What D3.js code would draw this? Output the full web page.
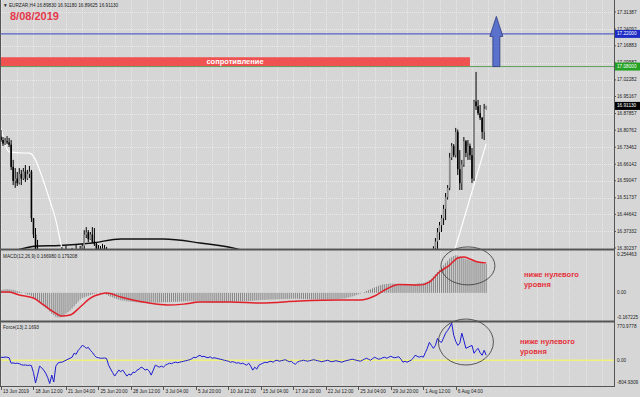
<!DOCTYPE html>
<html>
<head>
<meta charset="utf-8">
<style>
  html, body { margin: 0; padding: 0; background: #d6d6d6; }
  svg { display: block; font-family: "Liberation Sans", Arial, sans-serif; }
</style>
</head>
<body>
<div id="chart"></div>
<script src="https://d3js.org/d3.v7.min.js"></script>
<script>
// ---- data ----
var timeLabels = ["13 Jun 2019", "18 Jun 12:00", "21 Jun 04:00", "25 Jun 20:00", "28 Jun 12:00",
  "3 Jul 04:00", "5 Jul 20:00", "10 Jul 12:00", "15 Jul 04:00", "17 Jul 20:00",
  "22 Jul 12:00", "25 Jul 04:00", "29 Jul 20:00", "1 Aug 12:00", "6 Aug 04:00"];
var barsPerLabel = 16;

var priceTicks = [17.31387, 17.24092, 17.16883, 17.09587, 17.02282, 16.95167, 16.87857, 16.80762,
  16.73462, 16.66142, 16.59047, 16.51737, 16.44642, 16.37332, 16.30237];

// [bar, open, high, low, close] - only bars that show inside the price window
var priceBars = [
  [0, 16.78, 16.808, 16.757, 16.765], [1, 16.765, 16.778, 16.74, 16.75], [2, 16.75, 16.774, 16.744, 16.76],
  [3, 16.76, 16.782, 16.748, 16.755], [4, 16.755, 16.774, 16.735, 16.745], [5, 16.745, 16.765, 16.637, 16.65],
  [6, 16.65, 16.68, 16.572, 16.59], [7, 16.59, 16.645, 16.56, 16.6], [8, 16.6, 16.628, 16.568, 16.58],
  [9, 16.58, 16.645, 16.575, 16.62], [10, 16.62, 16.637, 16.572, 16.6], [11, 16.6, 16.645, 16.594, 16.63],
  [12, 16.63, 16.658, 16.585, 16.6], [13, 16.6, 16.637, 16.594, 16.62], [14, 16.62, 16.654, 16.602, 16.63],
  [15, 16.63, 16.637, 16.414, 16.43], [16, 16.43, 16.431, 16.345, 16.36], [17, 16.36, 16.388, 16.25, 16.27],
  [18, 16.27, 16.337, 16.208, 16.22],
  [30, 16.25, 16.307, 16.22, 16.26], [32, 16.26, 16.311, 16.23, 16.28], [35, 16.27, 16.303, 16.24, 16.29],
  [37, 16.28, 16.315, 16.25, 16.3], [39, 16.29, 16.311, 16.26, 16.3], [40, 16.3, 16.32, 16.27, 16.31],
  [41, 16.31, 16.379, 16.294, 16.36], [42, 16.36, 16.392, 16.345, 16.37], [43, 16.37, 16.379, 16.328, 16.34],
  [44, 16.34, 16.371, 16.337, 16.36], [45, 16.36, 16.392, 16.324, 16.33], [46, 16.33, 16.388, 16.311, 16.32],
  [47, 16.32, 16.324, 16.25, 16.27], [48, 16.27, 16.315, 16.24, 16.29], [49, 16.29, 16.311, 16.25, 16.27],
  [50, 16.27, 16.32, 16.25, 16.3], [51, 16.3, 16.315, 16.26, 16.28], [52, 16.28, 16.307, 16.24, 16.26],
  [212, 16.2, 16.29, 16.18, 16.28], [213, 16.28, 16.31, 16.26, 16.3], [214, 16.3, 16.345, 16.251, 16.33],
  [215, 16.33, 16.388, 16.294, 16.37], [216, 16.37, 16.414, 16.337, 16.4], [217, 16.4, 16.444, 16.371, 16.43],
  [218, 16.43, 16.487, 16.401, 16.47], [219, 16.47, 16.538, 16.422, 16.52], [220, 16.52, 16.572, 16.51, 16.56],
  [221, 16.56, 16.71, 16.55, 16.69], [222, 16.69, 16.752, 16.68, 16.74], [223, 16.74, 16.748, 16.692, 16.7],
  [224, 16.7, 16.817, 16.69, 16.8], [225, 16.8, 16.81, 16.615, 16.64], [226, 16.64, 16.722, 16.551, 16.58],
  [227, 16.58, 16.68, 16.551, 16.66], [228, 16.66, 16.778, 16.65, 16.76], [229, 16.76, 16.765, 16.692, 16.71],
  [230, 16.71, 16.765, 16.68, 16.74], [231, 16.74, 16.75, 16.68, 16.7], [232, 16.7, 16.731, 16.581, 16.6],
  [233, 16.6, 16.937, 16.59, 16.93], [234, 16.93, 17.057, 16.894, 16.91], [235, 16.91, 16.937, 16.872, 16.88],
  [236, 16.88, 16.915, 16.851, 16.86], [237, 16.86, 16.864, 16.77, 16.8], [238, 16.8, 16.92, 16.765, 16.898],
  [239, 16.8983, 16.9118, 16.89625, 16.9113]
];

// moving averages as [bar, price]
var fastMaLeft = [[0, 16.817], [4, 16.714], [9, 16.71], [14, 16.709], [17, 16.68], [19, 16.637], [24, 16.508], [27, 16.422], [30, 16.302], [33, 16.22]];
var fastMaRight = [[222, 16.25], [239, 16.75]];
var slowMa = [[8, 16.294], [18, 16.311], [29, 16.313], [45, 16.324], [59, 16.341], [80, 16.341], [98, 16.324], [118, 16.294], [125, 16.27]];

var resistance = [17.08, 17.12];
var resistanceEndBar = 231;
var blueLevel = 17.22;
var greenLevel = 17.08;
var arrowBar = 244, arrowFrom = 17.08, arrowTo = 17.295;

var macdHist = [
  0.018, 0.019, 0.021, 0.022, 0.021, 0.019, 0.018, 0.014, 0.011, 0.007,
  0.004, 0, -0.004, -0.009, -0.013, -0.018, -0.027, -0.035, -0.044, -0.053,
  -0.066, -0.08, -0.089, -0.097, -0.111, -0.124, -0.133, -0.142, -0.146, -0.146,
  -0.142, -0.133, -0.124, -0.115, -0.106, -0.093, -0.08, -0.066, -0.053, -0.04,
  -0.031, -0.027, -0.022, -0.018, -0.013, -0.009, -0.005, -0.003, 0, 0.002,
  0, -0.004, -0.011, -0.018, -0.023, -0.028, -0.033, -0.037, -0.041, -0.044,
  -0.046, -0.048, -0.05, -0.051, -0.053, -0.054, -0.055, -0.056, -0.057, -0.058,
  -0.058, -0.058, -0.059, -0.059, -0.058, -0.058, -0.058, -0.058, -0.057, -0.057,
  -0.056, -0.056, -0.055, -0.055, -0.054, -0.053, -0.053, -0.053, -0.052, -0.052,
  -0.051, -0.05, -0.05, -0.049, -0.049, -0.05, -0.05, -0.051, -0.053, -0.054,
  -0.055, -0.056, -0.057, -0.058, -0.058, -0.058, -0.059, -0.059, -0.058, -0.058,
  -0.058, -0.057, -0.056, -0.055, -0.054, -0.053, -0.053, -0.052, -0.051, -0.051,
  -0.05, -0.05, -0.049, -0.048, -0.047, -0.046, -0.045, -0.044, -0.043, -0.042,
  -0.042, -0.041, -0.04, -0.04, -0.039, -0.039, -0.038, -0.038, -0.037, -0.037,
  -0.037, -0.036, -0.036, -0.035, -0.035, -0.035, -0.035, -0.036, -0.036, -0.037,
  -0.037, -0.038, -0.038, -0.039, -0.039, -0.04, -0.04, -0.04, -0.041, -0.041,
  -0.041, -0.041, -0.04, -0.04, -0.039, -0.038, -0.037, -0.036, -0.035, -0.034,
  -0.032, -0.028, -0.025, -0.021, -0.018, -0.013, -0.009, -0.004, 0, 0.005,
  0.011, 0.016, 0.021, 0.027, 0.032, 0.037, 0.042, 0.046, 0.05, 0.051,
  0.053, 0.054, 0.055, 0.055, 0.054, 0.053, 0.051, 0.05, 0.049, 0.049,
  0.049, 0.05, 0.05, 0.051, 0.053, 0.055, 0.057, 0.058, 0.06, 0.062,
  0.066, 0.075, 0.084, 0.097, 0.111, 0.124, 0.137, 0.15, 0.164, 0.177,
  0.19, 0.204, 0.212, 0.219, 0.223, 0.221, 0.217, 0.211, 0.205, 0.2,
  0.196, 0.193, 0.19, 0.188, 0.186, 0.183, 0.181, 0.177, 0.174, 0.172
];
var macdSignal = [[0, 0.005], [4, 0.005], [9, -0.013], [16, -0.031], [21, -0.072], [26, -0.114], [30, -0.138],
  [34, -0.132], [39, -0.084], [44, -0.031], [49, -0.007], [52, -0.001], [59, -0.025], [65, -0.043], [73, -0.061],
  [82, -0.072], [90, -0.067], [98, -0.055], [113, -0.055], [128, -0.061], [147, -0.049], [167, -0.043],
  [177, -0.043], [184, -0.019], [189, 0.017], [196, 0.05], [206, 0.046], [211, 0.064], [216, 0.124],
  [221, 0.165], [225, 0.207], [228, 0.213], [231, 0.201], [235, 0.183], [239, 0.178]];
var macdRange = [-0.167225, 0.254463];
var macdLabels = ["0.254463", "0.00", "-0.167225"];

var force = [
  60, 55, 65, 60, 50, -60, -55, -65, -60, -70,
  -90, -100, -95, -105, -100, -110, -250, -460, -300, -120,
  -150, -200, -260, -350, -470, -300, -440, -120, -60, -40,
  -40, -20, 0, 20, 40, 60, 140, 120, 200, 240,
  300, 280, 240, 260, 200, 160, 100, 60, 50, 40,
  40, 45, 35, -100, -180, -250, -320, -260, -200, -230,
  -200, -260, -320, -280, -300, -240, -250, -200, -180, -140,
  -160, -200, -180, -220, -300, -200, -100, -120, -140, -120,
  -140, -100, -80, -60, -70, -50, -40, -50, -40, -30,
  -20, -10, 0, 10, 30, 60, 50, 80, 100, 70,
  80, 60, 50, 70, 40, 50, 40, 30, 20, 10,
  0, -10, -20, -40, -30, -40, -60, -50, -70, -60,
  -80, -100, -60, -120, -200, -140, -180, -100, -80, -60,
  -40, -50, -30, -20, -40, -10, 0, -20, -10, 0,
  10, -10, -30, -20, -60, -80, -40, -20, -10, 0,
  -10, -20, -10, 0, 10, 0, -10, -20, -30, -20,
  -10, 0, -20, -30, -20, -10, -20, -30, -40, -20,
  -10, 0, 10, 20, 10, 0, -10, -20, 0, 20,
  40, 20, 0, 30, 60, 40, 20, 30, 50, 60,
  40, 60, 80, 60, 50, 60, 70, 20, -40, -20,
  -40, -20, 0, 40, 100, 80, 60, 80, 60, 150,
  240, 360, 300, 240, 300, 440, 380, 360, 450, 545,
  600, 667, 747, 505, 380, 300, 343, 545, 400, 240,
  260, 280, 300, 140, 200, 240, 150, 100, 200, 100
];
var forceRange = [-520, 770.9778];
var forceLabels = ["770.9778", "0.00", "-804.9309"];

// ---- layout ----
var width = 640, height = 397;
var plotRight = 614;
var mainTop = 0, mainBottom = 249;
var macdTop = 250, macdBottom = 321;
var forceTop = 322, forceBottom = 386;
var fs = 4.7;

var svg = d3.select("#chart").append("svg")
  .attr("width", width).attr("height", height);

svg.append("rect").attr("width", width).attr("height", height).attr("fill", "#d6d6d6");

var x = d3.scaleLinear().domain([0, 239]).range([1, 486.2]);
var yMain = d3.scaleLinear().domain([16.30237, 17.31387]).range([248, 12]);
var yMacd = d3.scaleLinear().domain(macdRange).range([macdBottom, macdTop]);
var yForce = d3.scaleLinear().domain(forceRange).range([forceBottom, forceTop]);

var defs = svg.append("defs");
function clip(id, y0, y1) {
  defs.append("clipPath").attr("id", id).append("rect")
    .attr("x", 0).attr("y", y0).attr("width", plotRight).attr("height", y1 - y0);
  return svg.append("g").attr("clip-path", "url(#" + id + ")");
}

// grid
var grid = svg.append("g").attr("stroke", "#e9e9e9").attr("stroke-width", 1).attr("stroke-dasharray", "1,1");
grid.selectAll("line.v").data(d3.range(0, 304, 8)).join("line")
  .attr("x1", d => Math.round(x(d)) + 0.5).attr("x2", d => Math.round(x(d)) + 0.5)
  .attr("y1", 0).attr("y2", forceBottom);
grid.selectAll("line.h").data(priceTicks).join("line")
  .attr("x1", 0).attr("x2", plotRight)
  .attr("y1", d => Math.round(yMain(d)) + 0.5).attr("y2", d => Math.round(yMain(d)) + 0.5);

// ---- main panel ----
var main = clip("clipMain", mainTop, mainBottom);

main.append("rect")
  .attr("x", 0).attr("width", x(resistanceEndBar))
  .attr("y", yMain(resistance[1])).attr("height", yMain(resistance[0]) - yMain(resistance[1]))
  .attr("fill", "#f05252");

main.append("line").attr("x1", 0).attr("x2", plotRight)
  .attr("y1", yMain(greenLevel)).attr("y2", yMain(greenLevel))
  .attr("stroke", "#5f9f5f").attr("stroke-width", 1);
main.append("line").attr("x1", 0).attr("x2", plotRight)
  .attr("y1", yMain(blueLevel)).attr("y2", yMain(blueLevel))
  .attr("stroke", "#3a46c8").attr("stroke-width", 1);

main.append("text").attr("x", x(resistanceEndBar) / 2).attr("y", (yMain(resistance[0]) + yMain(resistance[1])) / 2)
  .attr("text-anchor", "middle").attr("dominant-baseline", "central")
  .attr("fill", "#fff").attr("font-size", 7.5).attr("font-weight", "bold")
  .text("сопротивление");

var maLine = d3.line().x(d => x(d[0])).y(d => yMain(d[1])).curve(d3.curveMonotoneX);
main.append("path").attr("d", maLine(slowMa)).attr("fill", "none").attr("stroke", "#111").attr("stroke-width", 1.4);
main.append("path").attr("d", maLine(fastMaLeft)).attr("fill", "none").attr("stroke", "#fff").attr("stroke-width", 1.2);
main.append("path").attr("d", maLine(fastMaRight)).attr("fill", "none").attr("stroke", "#fff").attr("stroke-width", 1.2);

var candles = main.selectAll("g.bar").data(priceBars).join("g");
candles.append("line")
  .attr("x1", d => x(d[0])).attr("x2", d => x(d[0]))
  .attr("y1", d => yMain(d[2])).attr("y2", d => yMain(d[3]))
  .attr("stroke", "#000").attr("stroke-width", 1);
candles.append("rect")
  .attr("x", d => x(d[0]) - 0.8).attr("width", 1.6)
  .attr("y", d => yMain(Math.max(d[1], d[4])))
  .attr("height", d => Math.max(0.6, Math.abs(yMain(d[1]) - yMain(d[4]))))
  .attr("fill", d => d[4] >= d[1] ? "#8c8c8c" : "#000");

// arrow
var ax = x(arrowBar), ay0 = yMain(arrowFrom), ay1 = yMain(arrowTo), headH = 20;
svg.append("path")
  .attr("d", "M" + (ax - 3.5) + "," + ay0 + "V" + (ay1 + headH) + "H" + (ax - 6.5) +
    "L" + ax + "," + ay1 + "L" + (ax + 6.5) + "," + (ay1 + headH) + "H" + (ax + 3.5) + "V" + ay0 + "Z")
  .attr("fill", "#5a72cc").attr("stroke", "#2b3680").attr("stroke-width", 0.8);

svg.append("text").attr("x", 3).attr("y", 5).attr("dominant-baseline", "central")
  .attr("font-size", fs).attr("fill", "#222")
  .text("\u25BC EURZAR,H4 16.89830 16.91180 16.89625 16.91130");
svg.append("text").attr("x", 10).attr("y", 20)
  .attr("font-size", 11).attr("font-weight", "bold").attr("fill", "#e5384a")
  .text("8/08/2019");

// ---- MACD panel ----
var macd = clip("clipMacd", macdTop, macdBottom);
macd.selectAll("line.h").data(macdHist).join("line")
  .attr("x1", (d, i) => x(i)).attr("x2", (d, i) => x(i))
  .attr("y1", yMacd(0)).attr("y2", d => yMacd(d))
  .attr("stroke", "#7d7d7d").attr("stroke-width", 0.9);
macd.append("path")
  .attr("d", d3.line().x(d => x(d[0])).y(d => yMacd(d[1])).curve(d3.curveMonotoneX)(macdSignal))
  .attr("fill", "none").attr("stroke", "#e0202a").attr("stroke-width", 1.5);
svg.append("text").attr("x", 3).attr("y", macdTop + 6).attr("dominant-baseline", "central")
  .attr("font-size", fs).attr("fill", "#222").text("MACD(12,26,9) 0.166980 0.179208");

// ---- Force panel ----
var forceG = clip("clipForce", forceTop, forceBottom);
forceG.append("line").attr("x1", 0).attr("x2", plotRight)
  .attr("y1", yForce(0)).attr("y2", yForce(0))
  .attr("stroke", "#f2f27a").attr("stroke-width", 1.5);
forceG.append("path")
  .attr("d", d3.line().x((d, i) => x(i)).y(d => yForce(d))(force))
  .attr("fill", "none").attr("stroke", "#1c1cd0").attr("stroke-width", 1);
svg.append("text").attr("x", 3).attr("y", forceTop + 5).attr("dominant-baseline", "central")
  .attr("font-size", fs).attr("fill", "#222").text("Force(13) 2.1693");

// annotations
svg.append("ellipse").attr("cx", x(230)).attr("cy", yMacd(0.16)).attr("rx", 27).attr("ry", 19)
  .attr("fill", "none").attr("stroke", "#333").attr("stroke-width", 0.8);
svg.append("ellipse").attr("cx", x(229)).attr("cy", yForce(367)).attr("rx", 27.5).attr("ry", 23)
  .attr("fill", "none").attr("stroke", "#333").attr("stroke-width", 0.8);

function note(px, py) {
  var t = svg.append("text").attr("font-size", 7.5).attr("font-weight", "bold").attr("fill", "#e5303a");
  t.append("tspan").attr("x", px).attr("y", py).text("ниже нулевого");
  t.append("tspan").attr("x", px).attr("y", py + 10).text("уровня");
}
note(524, 277);
note(520, 344);

// ---- frames ----
var frame = svg.append("g").attr("stroke", "#555").attr("fill", "none");
frame.append("line").attr("x1", 0).attr("x2", plotRight).attr("y1", 249.5).attr("y2", 249.5).attr("stroke-width", 2);
frame.append("line").attr("x1", 0).attr("x2", plotRight).attr("y1", 321.5).attr("y2", 321.5).attr("stroke-width", 2);
frame.append("line").attr("x1", 0).attr("x2", plotRight).attr("y1", forceBottom + 0.5).attr("y2", forceBottom + 0.5);
frame.append("line").attr("x1", plotRight + 0.5).attr("x2", plotRight + 0.5).attr("y1", 0).attr("y2", forceBottom + 1);
frame.append("line").attr("x1", 0.5).attr("x2", 0.5).attr("y1", 0).attr("y2", forceBottom + 1);

// ---- right scale ----
var scale = svg.append("g").attr("font-size", fs).attr("fill", "#222");
scale.selectAll("text.p").data(priceTicks).join("text")
  .attr("x", plotRight + 3).attr("y", d => yMain(d)).attr("dominant-baseline", "central")
  .text(d => d.toFixed(5));
scale.selectAll("line.p").data(priceTicks).join("line")
  .attr("x1", plotRight).attr("x2", plotRight + 2).attr("y1", d => yMain(d)).attr("y2", d => yMain(d))
  .attr("stroke", "#555");

function tag(v, color) {
  var y = yMain(v);
  svg.append("rect").attr("x", plotRight + 1).attr("y", y - 4).attr("width", width - plotRight - 1).attr("height", 8).attr("fill", color);
  svg.append("text").attr("x", plotRight + 3).attr("y", y).attr("dominant-baseline", "central")
    .attr("font-size", fs).attr("fill", "#fff").text(v.toFixed(5));
}
tag(blueLevel, "#1c2cc4");
tag(greenLevel, "#23a223");
tag(priceBars[priceBars.length - 1][4], "#000");

var macdPos = [yMacd(macdRange[1]) + 4, yMacd(0), yMacd(macdRange[0]) - 4];
scale.selectAll("text.m").data(macdLabels).join("text")
  .attr("x", plotRight + 3).attr("y", (d, i) => macdPos[i]).attr("dominant-baseline", "central").text(d => d);
var forcePos = [yForce(forceRange[1]) + 4, yForce(0), yForce(forceRange[0]) - 4];
scale.selectAll("text.f").data(forceLabels).join("text")
  .attr("x", plotRight + 3).attr("y", (d, i) => forcePos[i]).attr("dominant-baseline", "central").text(d => d);

// ---- time axis ----
var time = svg.append("g").attr("font-size", fs).attr("fill", "#222");
time.selectAll("line").data(timeLabels).join("line")
  .attr("x1", (d, i) => Math.round(x(i * barsPerLabel)) + 0.5).attr("x2", (d, i) => Math.round(x(i * barsPerLabel)) + 0.5)
  .attr("y1", forceBottom).attr("y2", forceBottom + 4).attr("stroke", "#555");
time.selectAll("text").data(timeLabels).join("text")
  .attr("x", (d, i) => x(i * barsPerLabel) + 2).attr("y", forceBottom + 5).attr("dominant-baseline", "central")
  .text(d => d);
</script>
</body>
</html>
